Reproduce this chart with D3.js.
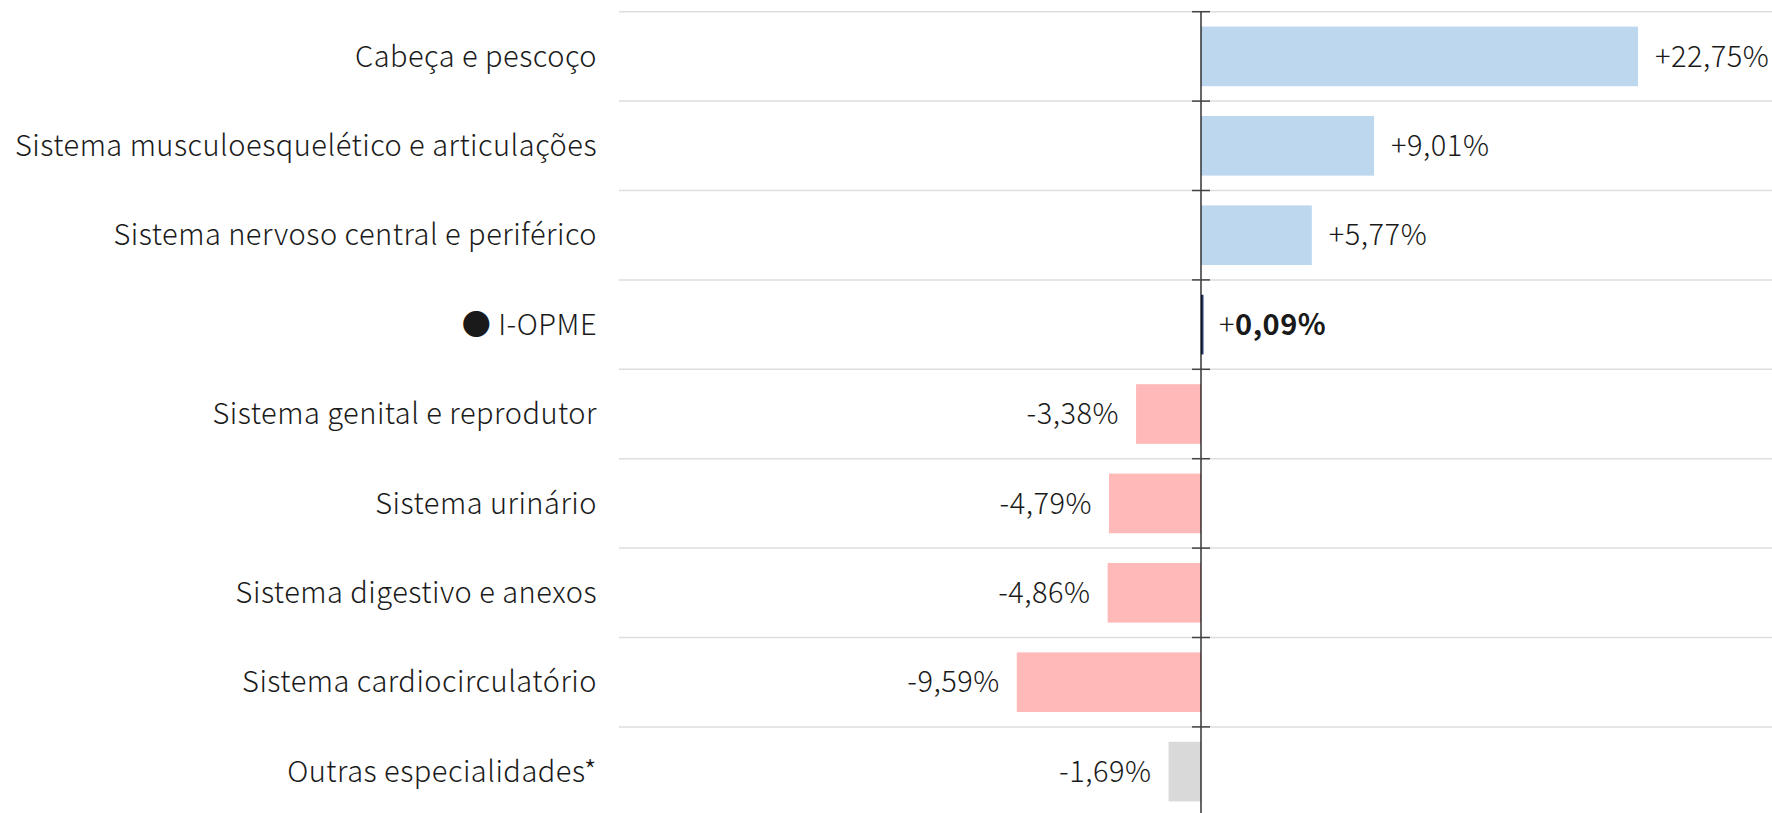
<!DOCTYPE html>
<html lang="pt">
    <head>
        <meta charset="utf-8">
        <title>I-OPME por especialidade</title>
        <script src="https://d3js.org/d3.v7.min.js"></script>
        <style media="screen">
        body { margin: 0; background: #fff; }
        text {
          font-family: "Noto Sans CJK JP", "Noto Sans", sans-serif;
          font-weight: 300;
          letter-spacing: 0.5px;
          fill: #1a1a1a;
        }
        .grid line { stroke: #dedede; stroke-width: 1.5; }
        </style>
    </head>
    <body>
        <script type="text/javascript">
        'use strict'
        let categories = [
          "Cabeça e pescoço",
          "Sistema musculoesquelético e articulações",
          "Sistema nervoso central e periférico",
          "I-OPME",
          "Sistema genital e reprodutor",
          "Sistema urinário",
          "Sistema digestivo e anexos",
          "Sistema cardiocirculatório",
          "Outras especialidades*"
        ]
        let values = [22.75, 9.01, 5.77, 0.09, -3.38, -4.79, -4.86, -9.59, -1.69]
        let valueLabels = ["+22,75%", "+9,01%", "+5,77%", "+0,09%", "-3,38%", "-4,79%", "-4,86%", "-9,59%", "-1,69%"]
        let kinds = ["pos", "pos", "pos", "index", "neg", "neg", "neg", "neg", "other"]

        let w = 1772
        let h = 813
        let gridLeft = 619
        let topY = 11.7
        let step = 89.4
        let fontSize = 29

        let colors = { pos: "#bdd7ee", neg: "#ffb9b9", other: "#d9d9d9", index: "#1f3864" }

        let xScale = d3.scaleLinear()
                  .domain([-30, 30])
                  .range([1201 - 576.3, 1201 + 576.3])
        let yScale = d3.scaleBand()
                  .domain(categories)
                  .range([topY, topY + step * categories.length])
                  .paddingInner(0.333)
                  .paddingOuter(0.1665)

        let svg = d3.select("body")
          .append("svg")
          .attr("width", w)
          .attr("height", h)

        // horizontal grid lines at band boundaries
        let bounds = categories.map((d, i) => topY + step * i)
        svg.append("g")
          .attr("class", "grid")
          .selectAll("line")
          .data(bounds)
          .enter()
          .append("line")
          .attr("x1", gridLeft)
          .attr("x2", w)
          .attr("y1", (d) => d)
          .attr("y2", (d) => d)

        svg.selectAll("rect.bar")
          .data(values)
          .enter()
          .append("rect")
          .attr("class", "bar")
          .attr("x", (d) => xScale(Math.min(0, d)))
          .attr("y", (d, i) => yScale(categories[i]))
          .attr("width", (d, i) => kinds[i] === "index" ? 2.5 : Math.abs(xScale(d) - xScale(0)))
          .attr("height", yScale.bandwidth())
          .attr("fill", (d, i) => colors[kinds[i]])

        // zero axis with tick marks at band boundaries
        svg.append("line")
          .attr("x1", xScale(0))
          .attr("x2", xScale(0))
          .attr("y1", topY)
          .attr("y2", h)
          .attr("stroke", "#000")
          .attr("stroke-width", 1.2)
        svg.append("g")
          .selectAll("line")
          .data(bounds)
          .enter()
          .append("line")
          .attr("x1", xScale(0) - 9)
          .attr("x2", xScale(0) + 9)
          .attr("y1", (d) => d)
          .attr("y2", (d) => d)
          .attr("stroke", "#444")
          .attr("stroke-width", 1.5)

        // category labels
        svg.selectAll("text.cat")
          .data(categories)
          .enter()
          .append("text")
          .attr("class", "cat")
          .attr("x", 597)
          .attr("y", (d) => yScale(d) + yScale.bandwidth() / 2)
          .attr("dy", "0.35em")
          .attr("text-anchor", "end")
          .attr("font-size", fontSize)
          .text((d) => d === "I-OPME" ? "\u25CF " + d : d)

        // value labels
        let vl = svg.selectAll("text.val")
          .data(values)
          .enter()
          .append("text")
          .attr("class", "val")
          .attr("x", (d, i) => kinds[i] === "index" ? xScale(0) + 18 : (d >= 0 ? xScale(d) + 17 : xScale(d) - 17))
          .attr("y", (d, i) => yScale(categories[i]) + yScale.bandwidth() / 2)
          .attr("dy", "0.35em")
          .attr("text-anchor", (d) => d >= 0 ? "start" : "end")
          .attr("font-size", fontSize)

        vl.each(function(d, i) {
          let t = d3.select(this)
          let s = valueLabels[i]
          if (kinds[i] === "index") {
            t.append("tspan").text(s.slice(0, 1))
            t.append("tspan").attr("font-weight", "bold").text(s.slice(1))
          } else {
            t.text(s)
          }
        })
        </script>
    </body>
</html>
